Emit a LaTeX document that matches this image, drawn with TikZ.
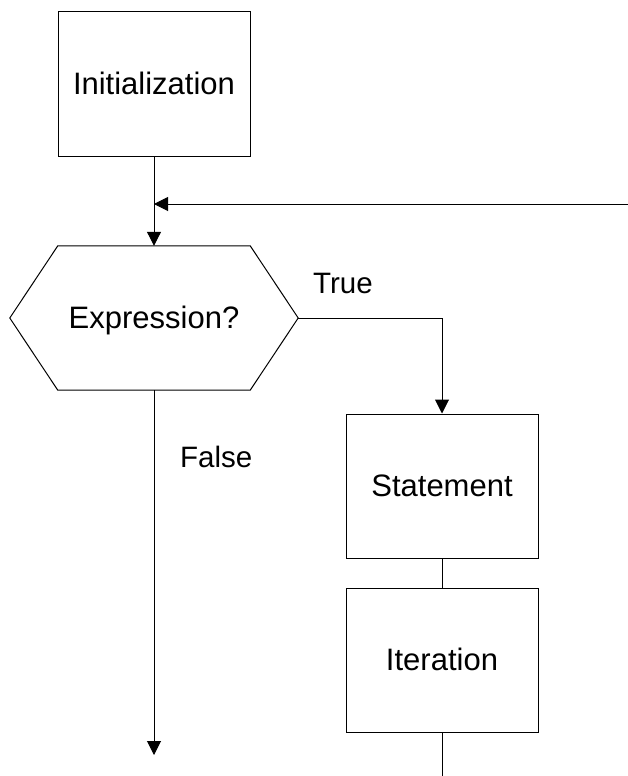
\documentclass[tikz,border=0pt]{standalone}
\usepackage{fontspec}
\setmainfont{Liberation Sans}
\usetikzlibrary{arrows.meta,calc}

\tikzset{
  flow/.style={draw=black, line width=1pt},
  labelfont/.style={font=\fontsize{31}{36}\selectfont, text height=20pt, text depth=0pt},
  proc/.style={draw=black, line width=1pt, rectangle, inner sep=0pt,
    minimum width=192pt, minimum height=144pt, labelfont},
  decision/.style={rectangle, inner sep=0pt,
    minimum width=288pt, minimum height=144pt, labelfont},
  branch/.style={font=\fontsize{29.5}{34}\selectfont, inner sep=0pt, anchor=base west},
  arr/.style={flow, -{Triangle[length=14pt,width=14pt]}},
}

\begin{document}
\begin{tikzpicture}[x=1pt,y=-1pt]
  \useasboundingbox (0,0) rectangle (628,776);
  \fill[white] (0,0) rectangle (628,776);

  % boxes
  \node[proc] (init) at (154,84) {Initialization};
  \node[decision] (cond) at (154,318) {Expression?};
  \draw[flow] ($(cond.north west)+(48,0)$) -- ($(cond.north east)+(-48,0)$)
    -- (cond.east) -- ($(cond.south east)+(-48,0)$)
    -- ($(cond.south west)+(48,0)$) -- (cond.west) -- cycle;
  \node[proc] (stmt) at (442,486) {Statement};
  \node[proc] (iter) at (442,660) {Iteration};

  % helper points
  \coordinate (loopin) at (628,204);
  \coordinate (merge) at (154,204);
  \coordinate (turn) at (442,318);
  \coordinate (exitF) at (154,755);
  \coordinate (iterout) at (442,776);

  % connectors
  \draw[arr] (init.south) -- (init.south |- cond.north);
  \draw[arr] (loopin) -- (merge);
  \draw[arr] (cond.east) -- (turn) -- (stmt.north);
  \draw[flow] (stmt.south) -- (iter.north);
  \draw[flow] (iter.south) -- (iterout);
  \draw[arr] (cond.south) -- (exitF);

  % branch labels
  \node[branch] (lt) at (313,293) {True};
  \node[branch] (lf) at (180,467) {False};
\end{tikzpicture}
\end{document}
